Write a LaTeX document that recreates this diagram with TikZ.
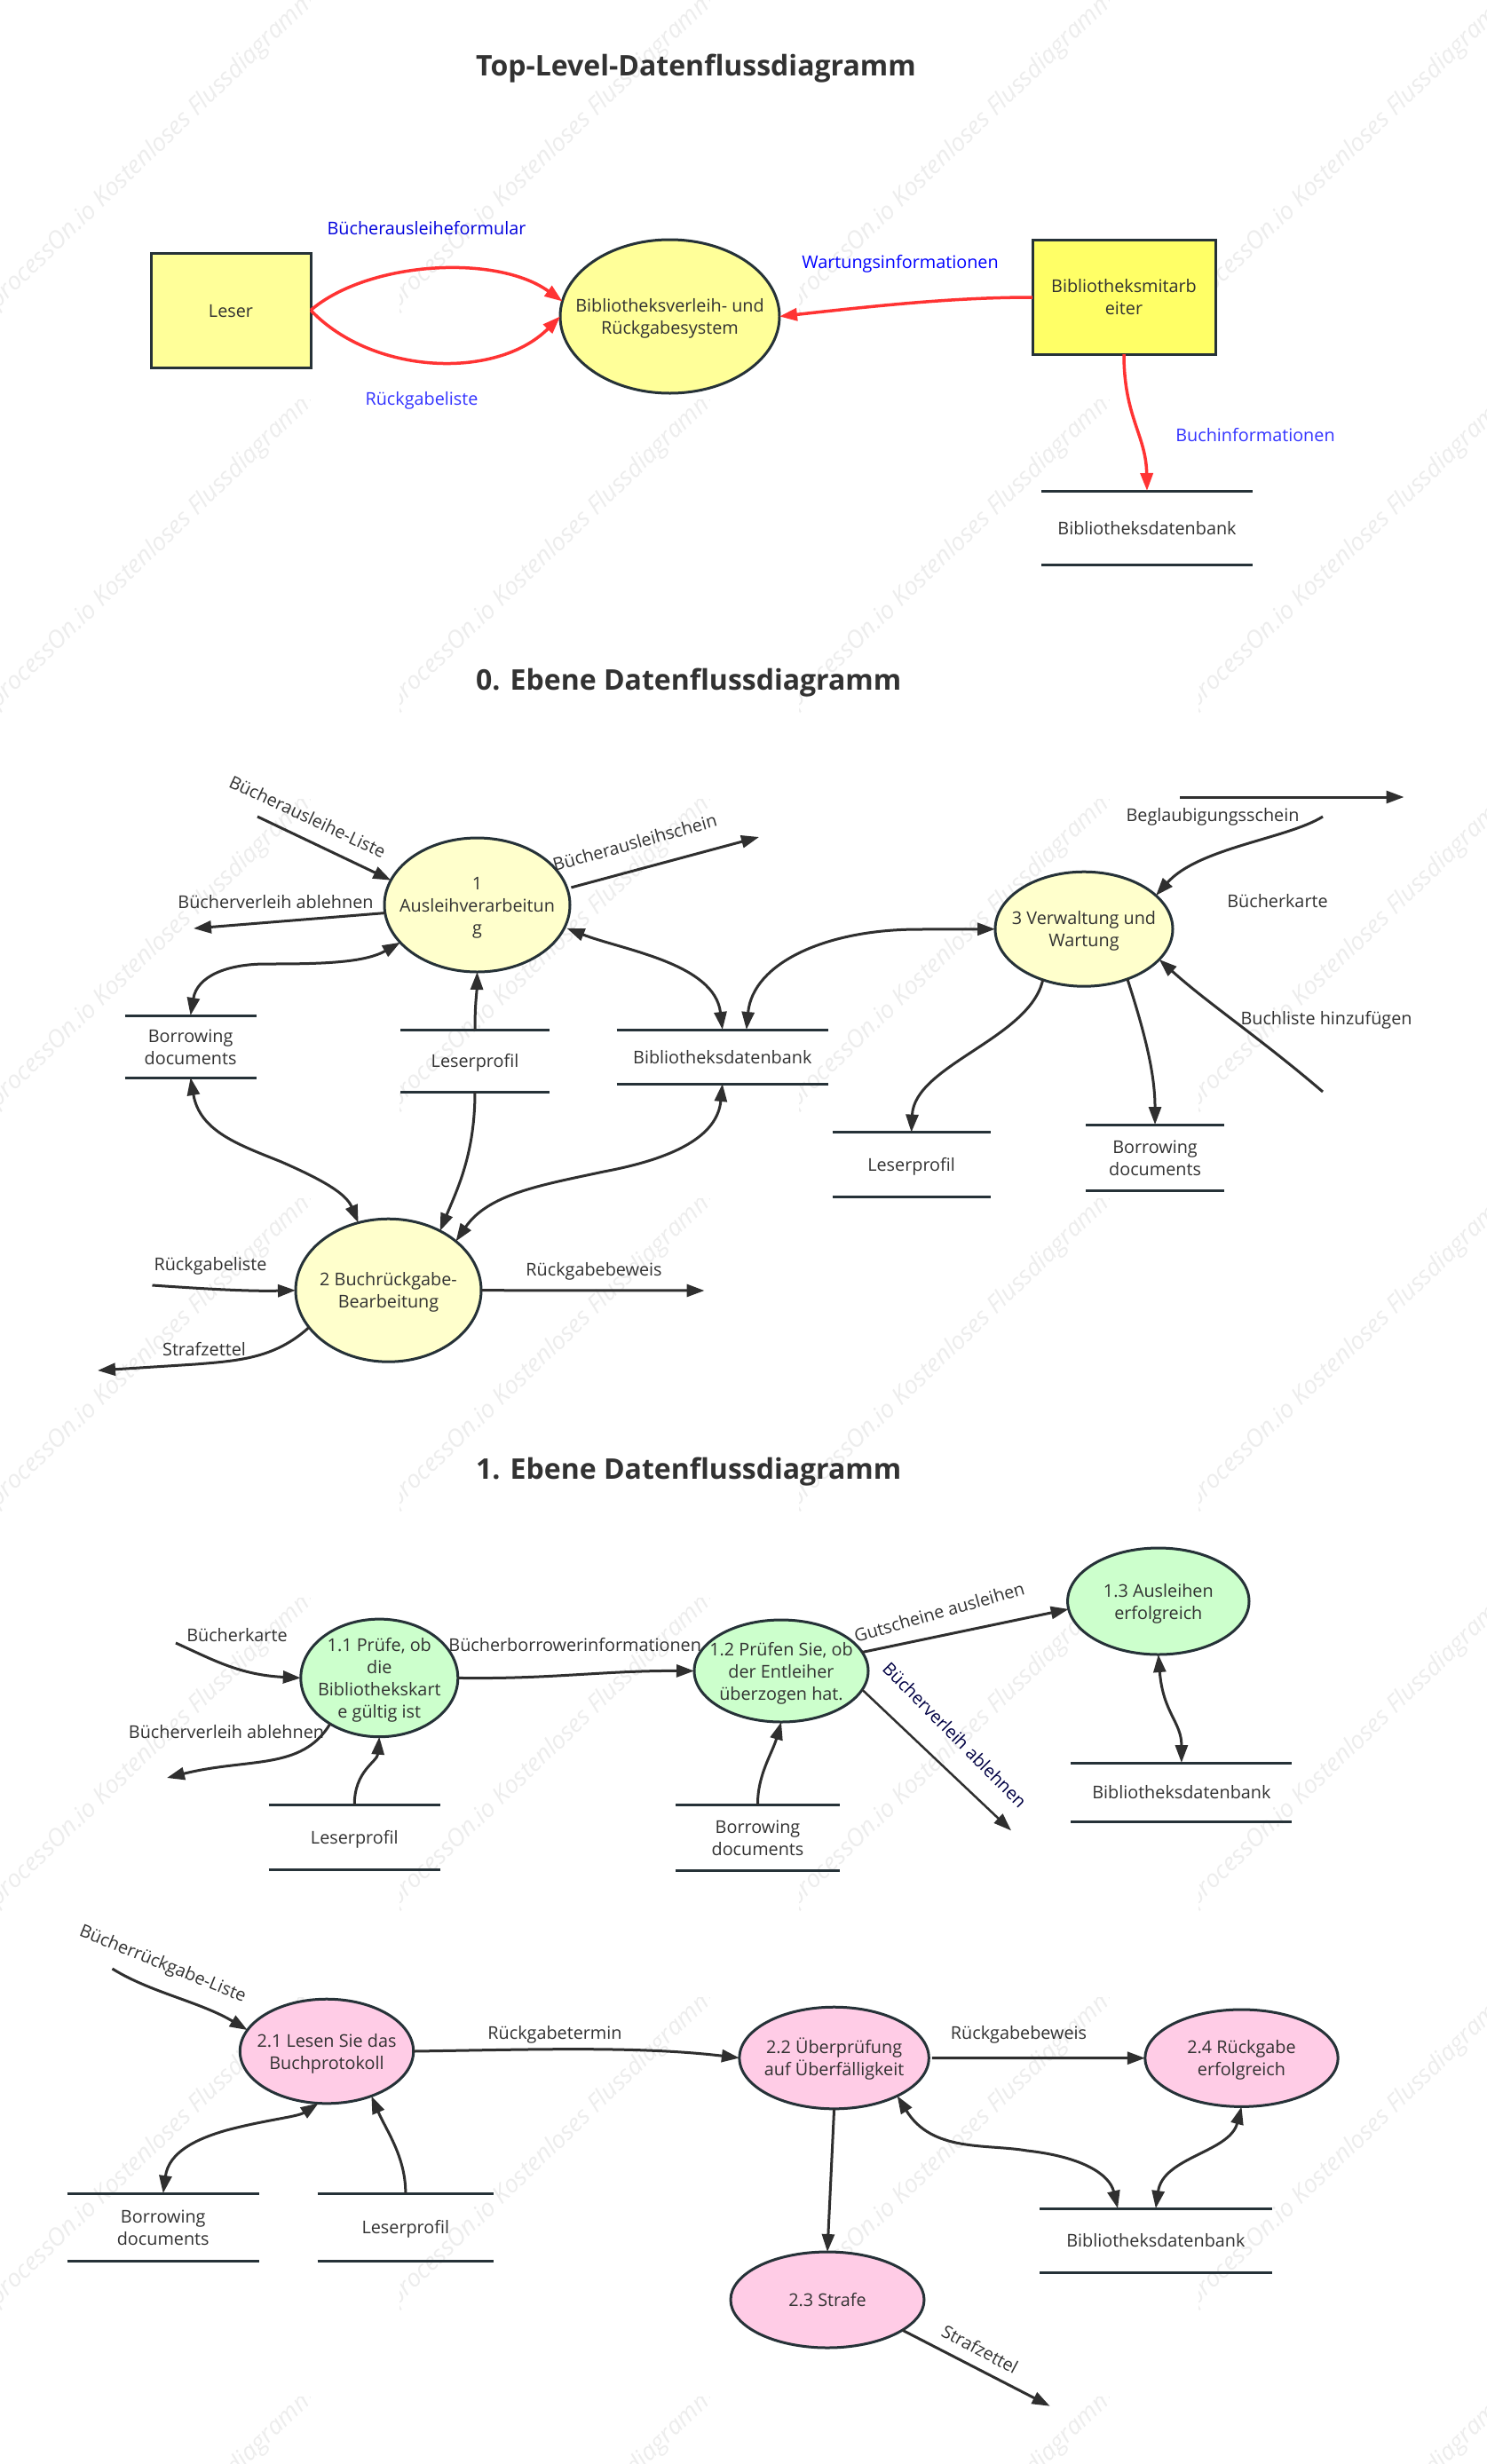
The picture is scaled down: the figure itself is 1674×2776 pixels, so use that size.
\documentclass[tikz,border=0pt]{standalone}
\usepackage{fontspec}
\setmainfont{Open Sans}
\usetikzlibrary{arrows.meta,shapes.geometric}
\definecolor{ink}{HTML}{323232}
\definecolor{edgeink}{HTML}{2F2F2F}
\definecolor{shapeink}{HTML}{263238}
\definecolor{redflow}{HTML}{FF3333}
\definecolor{wmgrey}{HTML}{EDEDED}
\tikzset{
  lbl/.style={font=\fontsize{19.8}{25}\selectfont,text=ink,inner sep=0pt,outer sep=0pt},
  titletext/.style={font=\fontsize{32}{38}\selectfont\bfseries,text=ink,inner sep=0pt,anchor=west},
  proc/.style={ellipse,draw=shapeink,line width=3pt,inner sep=0pt,outer sep=0pt,lbl},
  ext/.style={rectangle,draw=shapeink,line width=3pt,inner sep=0pt,outer sep=0pt,lbl,align=center},
  storenode/.style={rectangle,inner sep=0pt,outer sep=0pt,lbl},
  storeline/.style={draw=shapeink,line width=3pt},
  flow/.style={draw=edgeink,line width=3pt,-{Triangle[length=20pt,width=14pt]}},
  flowtwo/.style={draw=edgeink,line width=3pt,{Triangle[length=20pt,width=14pt]}-{Triangle[length=20pt,width=14pt]}},
  redflowline/.style={draw=redflow,line width=3.5pt,-{Triangle[length=20pt,width=14pt]}},
  wm/.style={font=\fontsize{27.5}{30}\selectfont\itshape,text=wmgrey,inner sep=0pt,rotate=44}
}
\newcommand{\ProcText}[1]{\makebox[0pt]{\raisebox{-0.4em}[0pt][0pt]{\begin{tabular}{@{}c@{}}#1\end{tabular}}}}
\newcommand{\Proc}[7]{\node[proc,fill=#6,minimum width=#4pt,minimum height=#5pt] (#1) at (#2,#3) {\ProcText{#7}};}
\newcommand{\Store}[6]{%
  \node[storenode,minimum width={(#3-#2)*1pt},minimum height={(#5-#4)*1pt}] (#1) at ({(#2+#3)/2},{(#4+#5)/2}) {\ProcText{#6}};
  \draw[storeline] (#1.north west) -- (#1.north east);
  \draw[storeline] (#1.south west) -- (#1.south east);}
\begin{document}
\begin{tikzpicture}[x=1pt,y=-1pt]
\useasboundingbox (0,0) rectangle (1674,2776);
\fill[white] (0,0) rectangle (1674,2776);
% watermark tiles
\foreach \i in {0,1,2,3}{\foreach \j in {0,1,2,3,4,5,6}{
  \begin{scope}
    \clip ({450*\i},{450*\j}) rectangle ({450*\i+349},{450*\j+450});
    \node[wm] (wm\i\j) at ({450*\i+172},{450*\j+170}) {processOn.io Kostenloses Flussdiagramm};
  \end{scope}}}

% titles
\node[titletext] (title0) at (536,77.5) {Top-Level-Datenflussdiagramm};
\node[titletext] (title1) at (536,769.5) {0. Ebene Datenflussdiagramm};
\node[titletext] (title2) at (536,1658.5) {1. Ebene Datenflussdiagramm};

% top level
\node[ext,fill={rgb,255:red,255;green,255;blue,153},minimum width=180pt,minimum height=129pt] (leser) at (260,349.5) {\ProcText{Leser}};
\node[proc,fill={rgb,255:red,255;green,255;blue,153},minimum width=247pt,minimum height=173pt] (sys) at (754.5,356.5) {\ProcText{Bibliotheksverleih- und\\Rückgabesystem}};
\node[ext,fill={rgb,255:red,255;green,255;blue,102},minimum width=206pt,minimum height=129pt] (staff) at (1266,334.5) {\ProcText{Bibliotheksmitarb\\eiter}};
\Store{dbtop}{1173}{1411}{553}{636}{Bibliotheksdatenbank}
\node[lbl,text={rgb,255:red,0;green,0;blue,221}] (ltop1) at (480.5,257) {Bücherausleiheformular};
\node[lbl,text={rgb,255:red,51;green,51;blue,255}] (ltop2) at (475,451) {Rückgabeliste};
\node[lbl,text={rgb,255:red,0;green,0;blue,255}] (ltop3) at (1014,297) {Wartungsinformationen};
\node[lbl,text={rgb,255:red,51;green,51;blue,255}] (ltop4) at (1414,490.5) {Buchinformationen};
\draw[redflowline] (leser.east) .. controls (415,294) and (560,286) .. (sys.172);
\draw[redflowline] (leser.east) .. controls (420,423) and (560,428) .. (sys.180);
\draw[redflowline] ([yshift=-0.5pt]staff.west) .. controls (1080,335) and (1000,343) .. (sys.0);
\draw[redflowline] (staff.south) .. controls (1266,470) and (1291,490) .. (dbtop.north);

% level 0
\Proc{p1}{537.5}{1019.5}{209}{151}{{rgb,255:red,255;green,255;blue,204}}{1\\Ausleihverarbeitun\\g}
\Proc{p2}{437.5}{1453.7}{209}{161}{{rgb,255:red,255;green,255;blue,204}}{2 Buchrückgabe-\\Bearbeitung}
\Proc{p3}{1221}{1046.7}{200}{129}{{rgb,255:red,255;green,255;blue,204}}{3 Verwaltung und\\Wartung}
\Store{bd0}{140.6}{288.6}{1144}{1214}{Borrowing\\documents}
\Store{lp0}{451}{619}{1160}{1230}{Leserprofil}
\Store{db0}{694.6}{933}{1160}{1221}{Bibliotheksdatenbank}
\Store{lp3}{937.5}{1115.7}{1275.6}{1348}{Leserprofil}
\Store{bd3}{1223.3}{1378.8}{1267}{1341}{Borrowing\\documents}

\coordinate (f1) at (290,920);
\coordinate (f2) at (218,1046);
\coordinate (f3) at (855,943);
\coordinate (f4) at (171.5,1448);
\coordinate (f5) at (793.5,1454);
\coordinate (f6) at (110,1544);
\coordinate (f7a) at (1329,898);
\coordinate (f7b) at (1581.5,898);
\coordinate (f8) at (1490,920);
\coordinate (f9) at (1490,1230);

\node[lbl,rotate=-25] (l01) at (346.5,920) {Bücherausleihe-Liste};
\node[lbl] (l02) at (310.5,1016) {Bücherverleih ablehnen};
\node[lbl,rotate=15.5] (l03) at (715,949) {Bücherausleihschein};
\node[lbl] (l04) at (237,1426) {Rückgabeliste};
\node[lbl] (l05) at (669,1432) {Rückgabebeweis};
\node[lbl] (l06) at (230,1520) {Strafzettel};
\node[lbl] (l07) at (1366,920) {Beglaubigungsschein};
\node[lbl] (l08) at (1439,1015.5) {Bücherkarte};
\node[lbl] (l09) at (1494,1149) {Buchliste hinzufügen};

\draw[flow] (f1) -- (p1.164.4);
\draw[flow] (p1.185) -- (f2);
\draw[flow] ([xshift=5pt]p1.11) -- (f3);
\draw[flowtwo] (bd0.north) .. controls (222,1100) and (255,1086) .. (300,1086) .. controls (360,1086) and (410,1085) .. (p1.206);
\draw[flow] (lp0.north) .. controls (535,1130) and (537,1120) .. (p1.270);
\draw[flow] (lp0.south) .. controls (535,1300) and (515,1340) .. (p2.49.6);
\draw[flowtwo] ([xshift=3pt]p1.-15.2) .. controls (700,1070) and (805,1085) .. (db0.north);
\draw[flowtwo] ([xshift=27pt]db0.north) .. controls (848,1085) and (930,1047) .. (1035,1047) -- (p3.180);
\draw[flowtwo] (bd0.south) .. controls (225,1275) and (270,1290) .. (317,1309) .. controls (365,1330) and (390,1345) .. (p2.114);
\draw[flowtwo] (db0.south) .. controls (808,1280) and (760,1305) .. (680,1320) .. controls (610,1335) and (550,1345) .. (p2.36.9);
\draw[flow] (f4) .. controls (230,1452) and (280,1455) .. (p2.180);
\draw[flow] (p2.0) -- (f5);
\draw[flow] (p2.205) .. controls (310,1530) and (270,1533) .. (220,1537) -- (f6);
\draw[flow] (f7a) -- (f7b);
\draw[flow] (f8) .. controls (1450,945) and (1350,955) .. (p3.25.9);
\draw[flow] (f9) .. controls (1420,1170) and (1360,1130) .. (p3.-22.6);
\draw[flow] (p3.231.5) .. controls (1160,1170) and (1030,1200) .. (lp3.north);
\draw[flow] (p3.-49) .. controls (1290,1165) and (1301,1210) .. (bd3.north);

% level 1, part 1
\Proc{p11}{427.3}{1890.4}{177}{132.6}{{rgb,255:red,204;green,255;blue,204}}{1.1 Prüfe, ob\\die\\Bibliothekskart\\e gültig ist}
\Proc{p12}{880}{1882.5}{196}{115}{{rgb,255:red,204;green,255;blue,204}}{1.2 Prüfen Sie, ob\\der Entleiher\\überzogen hat.}
\Proc{p13}{1304.8}{1804}{204.4}{120}{{rgb,255:red,204;green,255;blue,204}}{1.3 Ausleihen\\erfolgreich}
\Store{lp1}{302.5}{496}{2033.7}{2106}{Leserprofil}
\Store{bd1}{761}{946}{2033.7}{2107}{Borrowing\\documents}
\Store{db1}{1206.3}{1455.4}{1986}{2052.3}{Bibliotheksdatenbank}
\coordinate (g1) at (198,1851);
\coordinate (g2) at (188,2003);
\coordinate (g3) at (1139,2062.3);
\node[lbl] (l11) at (267,1842.5) {Bücherkarte};
\node[lbl] (l12) at (255,1951) {Bücherverleih ablehnen};
\node[lbl] (l13) at (647.7,1853) {Bücherborrowerinformationen};
\node[lbl,rotate=15.9] (l14) at (1058,1816) {Gutscheine ausleihen};
\node[lbl,rotate=-45.3,text={rgb,255:red,0;green,0;blue,68}] (l15) at (1075.5,1954.5) {Bücherverleih ablehnen};
\draw[flow] (g1) .. controls (240,1870) and (270,1887) .. (p11.180);
\draw[flow] (p11.223) .. controls (340,1995) and (280,1980) .. (g2);
\draw[flow] (lp1.north) .. controls (399,1995) and (425,1985) .. (p11.270);
\draw[flow] (p11.0) .. controls (620,1892) and (680,1882) .. (p12.180);
\draw[flow] (bd1.north) .. controls (853,2000) and (870,1975) .. (p12.270);
\draw[flow] (p12.13.4) -- (p13.185);
\draw[flow,line width=2.5pt] (p12.-13.5) -- (g3);
\draw[flowtwo] (p13.270) .. controls (1310,1930) and (1331,1940) .. (db1.north);

% level 1, part 2
\Proc{p21}{368}{2311}{195.4}{117.6}{{rgb,255:red,255;green,204;blue,230}}{2.1 Lesen Sie das\\Buchprotokoll}
\Proc{p22}{939.6}{2318.5}{213.4}{114.6}{{rgb,255:red,255;green,204;blue,230}}{2.2 Überprüfung\\auf Überfälligkeit}
\Proc{p23}{932}{2591}{218}{108}{{rgb,255:red,255;green,204;blue,230}}{2.3 Strafe}
\Proc{p24}{1398.5}{2318.7}{217.4}{109.4}{{rgb,255:red,255;green,204;blue,230}}{2.4 Rückgabe\\erfolgreich}
\Store{bd2}{75.5}{292}{2471}{2547}{Borrowing\\documents}
\Store{lp2}{357.7}{556}{2471}{2547}{Leserprofil}
\Store{db2}{1171}{1432.7}{2488}{2560}{Bibliotheksdatenbank}
\coordinate (h1) at (126.5,2218);
\coordinate (h2) at (1182.6,2710.7);
\node[lbl,rotate=-22] (l21) at (183,2213.5) {Bücherrückgabe-Liste};
\node[lbl] (l22) at (625,2292) {Rückgabetermin};
\node[lbl] (l23) at (1147.5,2292) {Rückgabebeweis};
\node[lbl,rotate=-28] (l24) at (1104,2646.5) {Strafzettel};
\draw[flow] (h1) .. controls (170,2245) and (225,2255) .. (p21.165);
\draw[flowtwo] (bd2.north) .. controls (190,2425) and (220,2410) .. (255,2400) .. controls (300,2388) and (335,2385) .. (p21.261);
\draw[flow] (lp2.north) .. controls (457,2430) and (435,2400) .. (p21.-45.6);
\draw[flow] (p21.0) .. controls (600,2309) and (720,2305) .. (p22.180);
\draw[flow] ([xshift=3.5pt]p22.east) -- (p24.west);
\draw[flow] (p22.270) -- (p23.90);
\draw[flowtwo] (p22.-31.7) .. controls (1050,2425) and (1110,2415) .. (1157,2423) .. controls (1220,2430) and (1250,2450) .. ([xshift=-42.8pt]db2.north);
\draw[flowtwo] (p24.270) .. controls (1385,2425) and (1310,2430) .. (db2.north);
\draw[flow] (p23.-22.4) -- (h2);
\end{tikzpicture}
\end{document}
